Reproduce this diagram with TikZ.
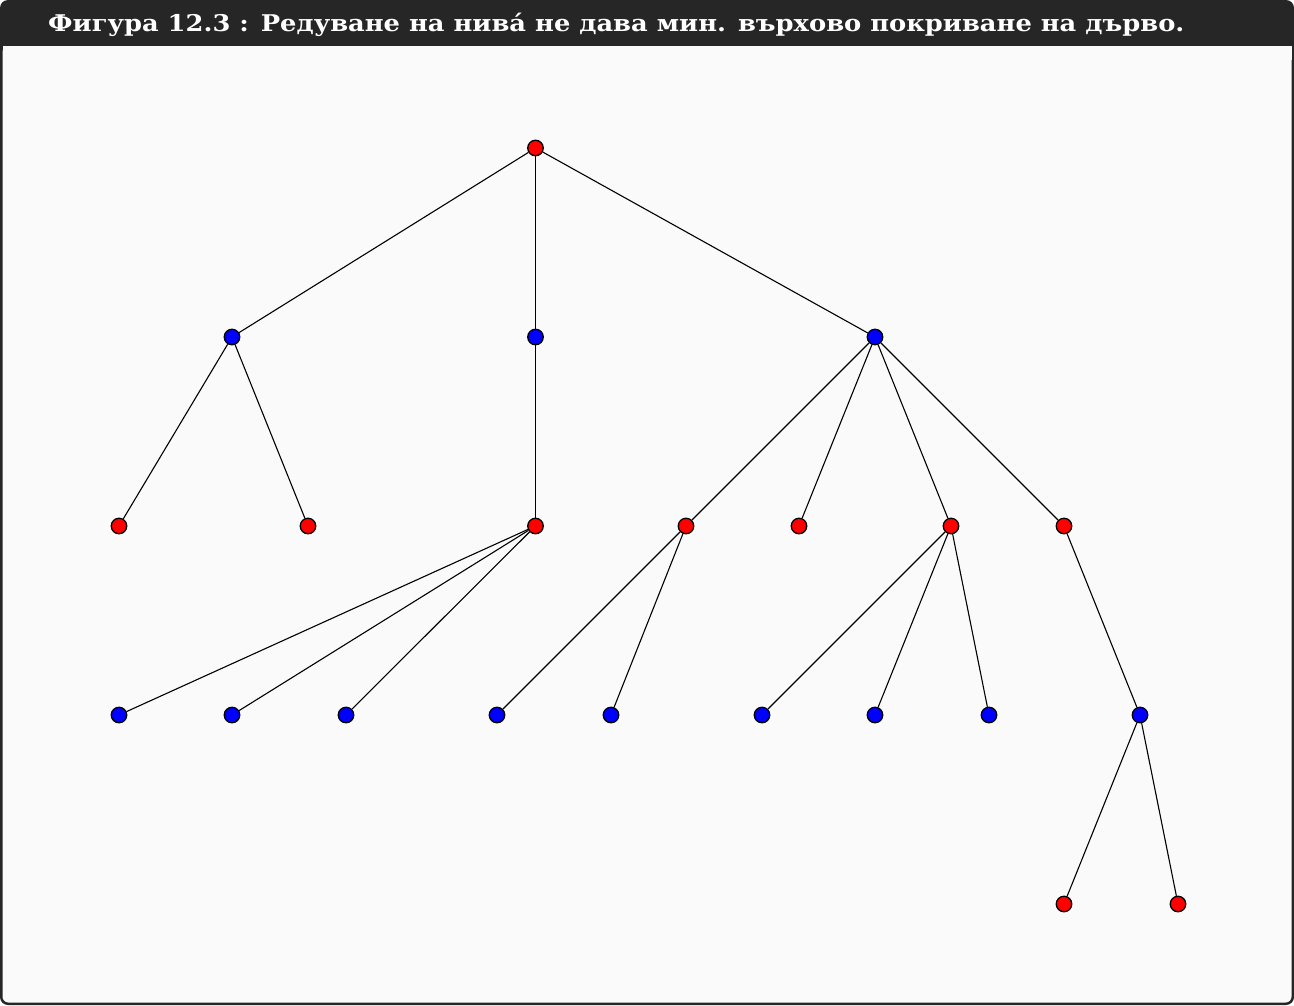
\documentclass[tikz,border=0pt]{standalone}
\usepackage{fontspec}
\setmainfont{Liberation Serif}
\newfontfamily\titlefont[FakeStretch=1.12]{DejaVu Serif}
\definecolor{framedark}{HTML}{262626}
\definecolor{bgpage}{HTML}{FAFAFA}
\definecolor{nred}{HTML}{FF0000}
\definecolor{nblue}{HTML}{0000FF}
\begin{document}
\begin{tikzpicture}[x=1pt,y=-1pt,
  vred/.style={circle,draw=black,line width=1.3pt,fill=nred,minimum size=15.5pt,inner sep=0pt},
  vblue/.style={circle,draw=black,line width=1.3pt,fill=nblue,minimum size=15.5pt,inner sep=0pt},
  edge/.style={draw=black,line width=1.1pt}]
\useasboundingbox (0,0) rectangle (1294,1005);
% frame
\fill[framedark,rounded corners=8pt] (0,0) rectangle (1294,1005);
\fill[bgpage,rounded corners=6pt] (2.5,46) rectangle (1291.5,1002.5);
\fill[bgpage] (2.5,46) rectangle (1291.5,60);
\node[anchor=base west,text=white,font=\titlefont\bfseries\fontsize{23}{26}\selectfont,inner sep=0pt] (title) at (48,31.5) {Фигура 12.3 : Редуване на нива́ не дава мин. върхово покриване на дърво.};
% nodes
\node[vred]  (r)  at (535.5,148) {};
\node[vblue] (a)  at (232,337) {};
\node[vblue] (b)  at (535.5,337) {};
\node[vblue] (c)  at (875,337) {};
\node[vred]  (a1) at (119,526) {};
\node[vred]  (a2) at (308,526) {};
\node[vred]  (b1) at (535.5,526) {};
\node[vred]  (c1) at (686,526) {};
\node[vred]  (c2) at (799,526) {};
\node[vred]  (c3) at (951,526) {};
\node[vred]  (c4) at (1064,526) {};
\node[vblue] (b11) at (119,715) {};
\node[vblue] (b12) at (232,715) {};
\node[vblue] (b13) at (346,715) {};
\node[vblue] (c11) at (497,715) {};
\node[vblue] (c12) at (611,715) {};
\node[vblue] (c31) at (762,715) {};
\node[vblue] (c32) at (875,715) {};
\node[vblue] (c33) at (989,715) {};
\node[vblue] (c41) at (1140,715) {};
\node[vred]  (d1) at (1064,904) {};
\node[vred]  (d2) at (1178,904) {};
% edges
\draw[edge] (r) -- (a); \draw[edge] (r) -- (b); \draw[edge] (r) -- (c);
\draw[edge] (a) -- (a1); \draw[edge] (a) -- (a2);
\draw[edge] (b) -- (b1);
\draw[edge] (c) -- (c1); \draw[edge] (c) -- (c2); \draw[edge] (c) -- (c3); \draw[edge] (c) -- (c4);
\draw[edge] (b1) -- (b11); \draw[edge] (b1) -- (b12); \draw[edge] (b1) -- (b13);
\draw[edge] (c1) -- (c11); \draw[edge] (c1) -- (c12);
\draw[edge] (c3) -- (c31); \draw[edge] (c3) -- (c32); \draw[edge] (c3) -- (c33);
\draw[edge] (c4) -- (c41);
\draw[edge] (c41) -- (d1); \draw[edge] (c41) -- (d2);
\end{tikzpicture}
\end{document}
